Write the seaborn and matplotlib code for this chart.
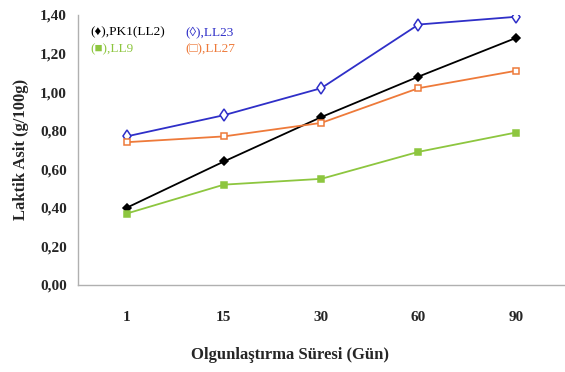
import numpy as np
import pandas as pd
import matplotlib.pyplot as plt
import seaborn as sns

days = ['1', '15', '30', '60', '90']
pk1_ll2 = [0.40, 0.64, 0.87, 1.08, 1.28]
ll23 = [0.77, 0.88, 1.02, 1.35, 1.39]
ll9 = [0.37, 0.52, 0.55, 0.69, 0.79]
ll27 = [0.74, 0.77, 0.84, 1.02, 1.11]

sns.set_style('white')
plt.rcParams['font.family'] = ['Liberation Serif', 'DejaVu Serif']

fig, ax = plt.subplots(figsize=(5.65, 3.72), dpi=100)
fig.subplots_adjust(left=0.138, right=0.999, bottom=0.234, top=0.96)

series = [
    (pk1_ll2, 'black', 'D', 'black', 4.5),
    (ll23, '#2f2fc8', 'd', 'white', 6),
    (ll9, '#8dc63f', 's', '#8dc63f', 5),
    (ll27, '#ee7a3a', 's', 'white', 5),
]
for vals, color, mk, fc, ms in series:
    df = pd.DataFrame({'Gün': days, 'Değer': vals})
    sns.lineplot(data=df, x='Gün', y='Değer', ax=ax, color=color, lw=1.3,
                 marker=mk, markersize=ms, markerfacecolor=fc,
                 markeredgecolor=color, markeredgewidth=1.1)

ax.set_xlim(-0.5, len(days) - 0.5)
ax.set_ylim(0, 1.40)
ax.set_yticks(np.arange(0, 1.41, 0.2))
ax.set_yticklabels([f'{v:.2f}'.replace('.', ',') for v in np.arange(0, 1.41, 0.2)])
ax.set_xticks(range(len(days)))
ax.set_xticklabels(days)
ax.set_xticks(np.arange(-0.5, len(days), 1.0), minor=True)
ax.tick_params(axis='x', which='major', length=0, pad=19)
ax.tick_params(axis='x', which='minor', length=5, width=0.8, color='#b0b0b0', direction='out')
ax.tick_params(axis='y', length=4, width=0.8, color='#b0b0b0', direction='out', pad=4)
ax.tick_params(labelsize=11)
for lab in ax.get_xticklabels() + ax.get_yticklabels():
    lab.set_fontweight('bold')

for side in ['top', 'right']:
    ax.spines[side].set_visible(False)
for side in ['left', 'bottom']:
    ax.spines[side].set_color('#b0b0b0')
    ax.spines[side].set_linewidth(1.0)

ax.set_xlabel('Olgunlaştırma Süresi (Gün)', fontsize=12, fontweight='bold')
ax.xaxis.set_label_coords(0.435, -0.23)
ax.set_ylabel('Laktik Asit (g/100g)', fontsize=12, fontweight='bold', labelpad=8)

# legend as coloured text
ax.text(0.025, 0.925, '(♦),PK1(LL2)', transform=ax.transAxes, fontsize=9.5, color='black',
        family=['Liberation Serif', 'DejaVu Sans'])
ax.text(0.22, 0.925, '(◊),LL23', transform=ax.transAxes, fontsize=9.5, color='#2f2fc8',
        family=['Liberation Serif', 'DejaVu Sans'])
ax.text(0.025, 0.86, '(■),LL9', transform=ax.transAxes, fontsize=9.5, color='#8dc63f',
        family=['Liberation Serif', 'DejaVu Sans'])
ax.text(0.22, 0.86, '(□),LL27', transform=ax.transAxes, fontsize=9.5, color='#ee7a3a',
        family=['Liberation Serif', 'DejaVu Sans'])

fig.savefig('out.png', dpi=100)
